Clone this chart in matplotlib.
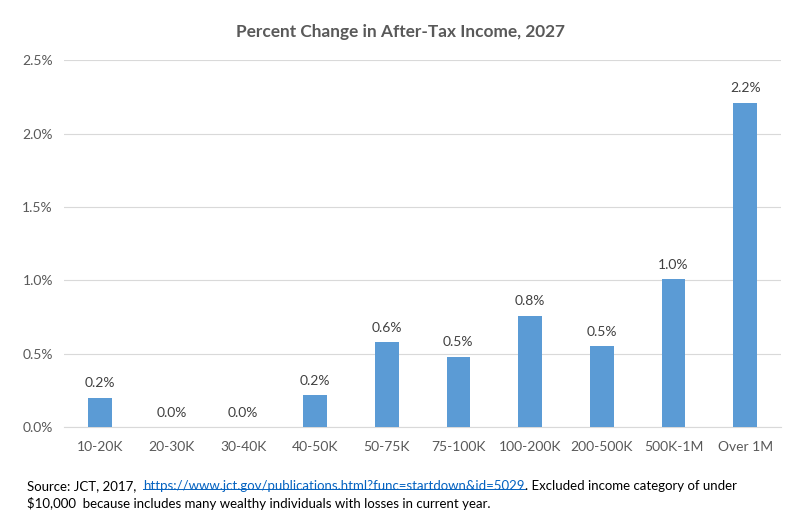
import matplotlib
matplotlib.use("Agg")
import matplotlib.pyplot as plt
from matplotlib.ticker import PercentFormatter
from matplotlib.lines import Line2D

# data
categories = ["10-20K", "20-30K", "30-40K", "40-50K", "50-75K", "75-100K",
              "100-200K", "200-500K", "500K-1M", "Over 1M"]
pct_change = [0.2, 0.0, 0.0, 0.22, 0.58, 0.48, 0.76, 0.55, 1.01, 2.21]
labels = ["0.2%", "0.0%", "0.0%", "0.2%", "0.6%", "0.5%", "0.8%", "0.5%", "1.0%", "2.2%"]
title = "Percent Change in After-Tax Income, 2027"
url = "https://www.jct.gov/publications.html?func=startdown&id=5029"

plt.rcParams['font.family'] = ['Lato', 'DejaVu Sans']
GREY = "#595959"

fig = plt.figure(figsize=(8.01, 5.32), dpi=100)
ax = fig.add_axes([0.080, 0.197, 0.895, 0.690])

x = range(len(categories))
bars = ax.bar(x, pct_change, width=0.33, color="#5B9BD5", zorder=3)
for xi, v, lab in zip(x, pct_change, labels):
    ax.annotate(lab, (xi, v), xytext=(0, 6), textcoords="offset points",
                ha="center", va="bottom", fontsize=10, color="#404040")

ax.set_xlim(-0.5, len(categories) - 0.5)
ax.set_ylim(0, 2.5)
ax.set_yticks([0, 0.5, 1.0, 1.5, 2.0, 2.5])
ax.yaxis.set_major_formatter(PercentFormatter(decimals=1))
ax.set_xticks(list(x))
ax.set_xticklabels(categories)
ax.tick_params(axis="both", length=0, labelsize=10, colors=GREY, pad=8)
ax.tick_params(axis="x", pad=10)
ax.grid(axis="y", color="#D9D9D9", linewidth=0.8, zorder=0)
for s in ["top", "right", "left"]:
    ax.spines[s].set_visible(False)
ax.spines["bottom"].set_color("#D9D9D9")

fig.text(0.5, 0.94, title, ha="center", va="center", fontsize=12.4,
         fontweight="bold", color=GREY)

# footnote, with the link drawn in blue and underlined
fs = 9.5
t1 = fig.text(0.034, 0.079, "Source: JCT, 2017,  ", fontsize=fs, color="black",
              va="baseline")
t2 = ax.annotate(url, xy=(1, 0), xycoords=t1, fontsize=fs, color="#0563C1",
                 va="bottom", annotation_clip=False)
t3 = ax.annotate(". Excluded income category of under", xy=(1, 0), xycoords=t2,
                 fontsize=fs, color="black", va="bottom", annotation_clip=False)
fig.text(0.034, 0.045, "$10,000  because includes many wealthy individuals with losses in current year.",
         fontsize=fs, color="black", va="baseline")

fig.canvas.draw()
bb = t2.get_window_extent()
inv = fig.transFigure.inverted()
(x0, y0), (x1, _) = inv.transform([(bb.x0, bb.y0 + 3), (bb.x1, bb.y0)])
fig.add_artist(Line2D([x0, x1], [y0, y0], color="#0563C1", linewidth=0.7,
                      transform=fig.transFigure))

fig.savefig("out.png", dpi=100)
